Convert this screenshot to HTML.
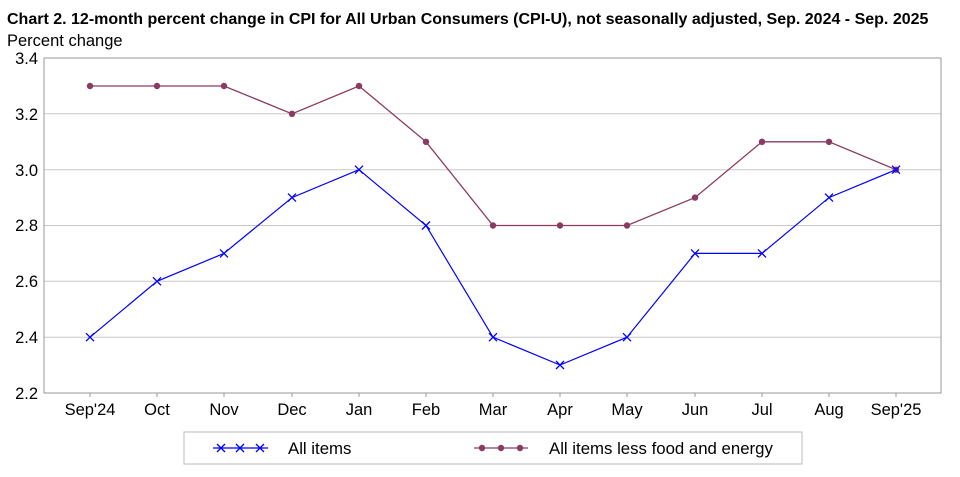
<!DOCTYPE html>
<html><head><meta charset="utf-8"><style>
body{margin:0;background:#fff}
svg text{font-family:"Liberation Sans",sans-serif}
</style></head><body>
<svg width="960" height="472" viewBox="0 0 960 472" xmlns="http://www.w3.org/2000/svg">
<text x="7" y="24" font-size="16" font-weight="bold" fill="#000">Chart 2. 12-month percent change in CPI for All Urban Consumers (CPI-U), not seasonally adjusted, Sep. 2024 - Sep. 2025</text>
<text x="7" y="46" font-size="16.5" fill="#000">Percent change</text>
<g stroke="#c8c8c8" stroke-width="1">
<line x1="44" y1="113.8" x2="941" y2="113.8"/>
<line x1="44" y1="169.7" x2="941" y2="169.7"/>
<line x1="44" y1="225.5" x2="941" y2="225.5"/>
<line x1="44" y1="281.3" x2="941" y2="281.3"/>
<line x1="44" y1="337.2" x2="941" y2="337.2"/>
</g>
<rect x="44" y="58" width="897" height="335" fill="none" stroke="#999" stroke-width="1"/>
<g font-size="16.5" fill="#000" text-anchor="end">
<text x="38" y="64">3.4</text><text x="38" y="120">3.2</text><text x="38" y="176">3.0</text>
<text x="38" y="231">2.8</text><text x="38" y="287">2.6</text><text x="38" y="343">2.4</text><text x="38" y="399">2.2</text>
</g>
<g font-size="16.5" fill="#000" text-anchor="middle">
<text x="90" y="415">Sep'24</text><text x="157" y="415">Oct</text><text x="224" y="415">Nov</text><text x="292" y="415">Dec</text><text x="359" y="415">Jan</text><text x="426" y="415">Feb</text><text x="493" y="415">Mar</text><text x="560" y="415">Apr</text><text x="627" y="415">May</text><text x="695" y="415">Jun</text><text x="762" y="415">Jul</text><text x="829" y="415">Aug</text><text x="896" y="415">Sep'25</text>
</g>
<g stroke="#999"><line x1="90" y1="393" x2="90" y2="397"/><line x1="157" y1="393" x2="157" y2="397"/><line x1="224" y1="393" x2="224" y2="397"/><line x1="292" y1="393" x2="292" y2="397"/><line x1="359" y1="393" x2="359" y2="397"/><line x1="426" y1="393" x2="426" y2="397"/><line x1="493" y1="393" x2="493" y2="397"/><line x1="560" y1="393" x2="560" y2="397"/><line x1="627" y1="393" x2="627" y2="397"/><line x1="695" y1="393" x2="695" y2="397"/><line x1="762" y1="393" x2="762" y2="397"/><line x1="829" y1="393" x2="829" y2="397"/><line x1="896" y1="393" x2="896" y2="397"/></g>
<polyline fill="none" stroke="#8b3a62" stroke-width="1.3" points="90,86 157,86 224,86 292,113.8 359,86 426,141.8 493,225.5 560,225.5 627,225.5 695,197.6 762,141.8 829,141.8 896,169.7"/>
<g fill="#8b3a62"><circle cx="90" cy="86" r="3.2"/><circle cx="157" cy="86" r="3.2"/><circle cx="224" cy="86" r="3.2"/><circle cx="292" cy="113.8" r="3.2"/><circle cx="359" cy="86" r="3.2"/><circle cx="426" cy="141.8" r="3.2"/><circle cx="493" cy="225.5" r="3.2"/><circle cx="560" cy="225.5" r="3.2"/><circle cx="627" cy="225.5" r="3.2"/><circle cx="695" cy="197.6" r="3.2"/><circle cx="762" cy="141.8" r="3.2"/><circle cx="829" cy="141.8" r="3.2"/><circle cx="896" cy="169.7" r="3.2"/></g>
<polyline fill="none" stroke="#0000ff" stroke-width="1.2" points="90,337.2 157,281.3 224,253.4 292,197.6 359,169.7 426,225.5 493,337.2 560,365 627,337.2 695,253.4 762,253.4 829,197.6 896,169.7"/>
<g stroke="#0000ff" stroke-width="1.3">
<path d="M86,333.2l8,8M94,333.2l-8,8"/><path d="M153,277.3l8,8M161,277.3l-8,8"/><path d="M220,249.4l8,8M228,249.4l-8,8"/><path d="M288,193.6l8,8M296,193.6l-8,8"/><path d="M355,165.7l8,8M363,165.7l-8,8"/><path d="M422,221.5l8,8M430,221.5l-8,8"/><path d="M489,333.2l8,8M497,333.2l-8,8"/><path d="M556,361l8,8M564,361l-8,8"/><path d="M623,333.2l8,8M631,333.2l-8,8"/><path d="M691,249.4l8,8M699,249.4l-8,8"/><path d="M758,249.4l8,8M766,249.4l-8,8"/><path d="M825,193.6l8,8M833,193.6l-8,8"/><path d="M892,165.7l8,8M900,165.7l-8,8"/>
</g>
<rect x="184" y="432" width="618" height="32" fill="#fff" stroke="#bbb"/>
<line x1="213" y1="448" x2="268" y2="448" stroke="#0000ff" stroke-width="1.2"/>
<g stroke="#0000ff" stroke-width="1.3"><path d="M217,444l8,8M225,444l-8,8"/><path d="M236,444l8,8M244,444l-8,8"/><path d="M256,444l8,8M264,444l-8,8"/></g>
<text x="288" y="454" font-size="16.8">All items</text>
<line x1="474" y1="448" x2="528" y2="448" stroke="#8b3a62" stroke-width="1.3"/>
<g fill="#8b3a62"><circle cx="482" cy="448" r="3.2"/><circle cx="501" cy="448" r="3.2"/><circle cx="520" cy="448" r="3.2"/></g>
<text x="549" y="454" font-size="16.8">All items less food and energy</text>
</svg>
</body></html>
